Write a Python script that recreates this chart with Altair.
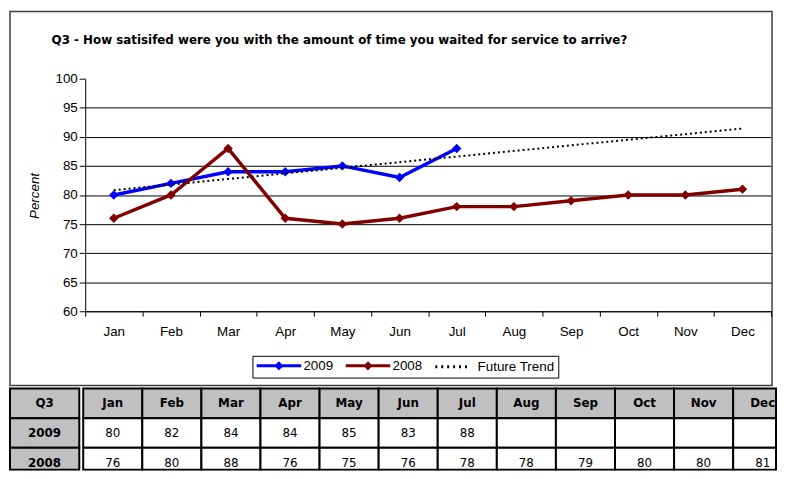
import altair as alt
import pandas as pd

# ---------------- data ----------------
months = ["Jan", "Feb", "Mar", "Apr", "May", "Jun", "Jul", "Aug", "Sep", "Oct", "Nov", "Dec"]
vals_2009 = [80, 82, 84, 84, 85, 83, 88]
vals_2008 = [76, 80, 88, 76, 75, 76, 78, 78, 79, 80, 80, 81]
series_names = ["2009", "2008", "Future Trend"]
series_colors = ["#0000FF", "#800000", "#000000"]
y_ticks = [60, 65, 70, 75, 80, 85, 90, 95, 100]
table_rows = ["Q3", "2009", "2008"]
title_text = "Q3 - How satisifed were you with the amount of time you waited for service to arrive?"

rows = []
for i, m in enumerate(months):
    if i < len(vals_2009):
        rows.append({"idx": i + 1, "month": m, "series": "2009", "value": vals_2009[i]})
for i, m in enumerate(months):
    rows.append({"idx": i + 1, "month": m, "series": "2008", "value": vals_2008[i]})
df = pd.DataFrame(rows)

trows = []
for i, m in enumerate(months):
    trows.append({"col": i, "row": 0, "label": m})
    trows.append({"col": i, "row": 1, "label": str(vals_2009[i]) if i < len(vals_2009) else ""})
    trows.append({"col": i, "row": 2, "label": str(vals_2008[i])})
tdf = pd.DataFrame(trows)
ldf = pd.DataFrame({"row": list(range(len(table_rows))), "label": table_rows})

# ---------------- layout constants ----------------
W, H = 770, 378
PX0, PX1 = 76, 769
PY0, PY1 = 303, 68
n = len(months)
x_bounds = [i + 0.5 for i in range(n + 1)]
band = (PX1 - PX0) / n

month_list_expr = "[" + ",".join("'%s'" % m for m in months) + "]"
label_expr = "datum.value < %d ? %s[floor(datum.value)] : ''" % (n, month_list_expr)

AX_FONT = "Liberation Sans"
AX_SIZE = 13.5

X = alt.X(
    "idx:Q",
    scale=alt.Scale(domain=[0.5, n + 0.5], range=[PX0, PX1], nice=False, zero=False),
    axis=alt.Axis(
        values=x_bounds, labelExpr=label_expr,
        labelOffset={"condition": {"test": "datum.value > %d" % n, "value": 0}, "value": band / 2},
        tickSize=5, offset=-(H - PY0), grid=False, title=None, labelPadding=8,
        labelFlush=False, labelOverlap=False, labelFont=AX_FONT, labelFontSize=AX_SIZE,
        labelColor="black", domainColor="black", tickColor="black",
    ),
)
Y = alt.Y(
    "value:Q",
    scale=alt.Scale(domain=[60, 100], range=[PY0, PY1], nice=False, zero=False),
    axis=alt.Axis(
        values=y_ticks, offset=-PX0, grid=True, gridColor="black", gridWidth=1,
        gridOpacity={"condition": {"test": "datum.value >= 100", "value": 0}, "value": 1},
        tickSize=6, tickColor="black", domainColor="black", labelPadding=2,
        labelFont=AX_FONT, labelFontSize=AX_SIZE, labelColor="black",
        title="Percent", titleFont=AX_FONT, titleFontStyle="italic",
        titleFontWeight="normal", titleFontSize=AX_SIZE, titleColor="black",
        titleX=-51, titleY=186, titleAngle=270, titleAlign="center", titleBaseline="middle",
    ),
)

sym_line_diamond = "M-4.5,0H4.5M0,-0.5L0.5,0L0,0.5L-0.5,0Z"
sym_line = "M-3.6,0H3.6"
trend_name = series_names[2]
fill_expr = "datum.value === '%s' ? '%s' : datum.value === '%s' ? '%s' : 'transparent'" % (
    series_names[0], series_colors[0], series_names[1], series_colors[1])

C = alt.Color(
    "series:N",
    scale=alt.Scale(domain=series_names, range=series_colors),
    legend=alt.Legend(
        title=None, orient="none", legendX=245, legendY=348, direction="horizontal",
        strokeColor="black", fillColor="white", padding=3, symbolSize=100,
        symbolStrokeWidth=3, symbolOffset=17,
        symbolType=alt.ExprRef("datum.value === '%s' ? '%s' : '%s'" % (trend_name, sym_line, sym_line_diamond)),
        symbolDash=alt.ExprRef("datum.value === '%s' ? [2, 4] : [1, 0]" % trend_name),
        symbolFillColor=alt.ExprRef(fill_expr),
        symbolOpacity=1,
        labelOffset=18, columnPadding=6, labelFont=AX_FONT, labelFontSize=AX_SIZE,
        labelColor="black",
    ),
)

base = alt.Chart(df)
lines = base.mark_line(strokeWidth=3.5).encode(x=X, y=Y, color=C, detail="series:N")
points = base.mark_point(shape="diamond", filled=True, size=90, opacity=1).encode(x=X, y=Y, color=C)
trend = (
    base.transform_filter(alt.datum.series == series_names[0])
    .transform_regression("idx", "value", method="linear", extent=[1, n])
    .transform_calculate(series="'%s'" % trend_name)
    .mark_line(strokeDash=[2, 3], strokeWidth=2)
    .encode(x=X, y=Y, color=C)
)

top = alt.layer(lines, points, trend).properties(
    width=W, height=H,
    title=alt.TitleParams(
        title_text, anchor="start", frame="group", dx=42, offset=-45,
        baseline="alphabetic", font="DejaVu Sans", fontSize=12, fontWeight="bold", color="black",
    ),
    view=alt.ViewBackground(stroke="#404040", strokeWidth=1.5),
)

# ---------------- table ----------------
TFONT = "DejaVu Sans"
GREY = "#C0C0C0"
TH = 82            # visible table height (px)
ROW_H = 30         # nominal row height
RW = 700           # visible width of month columns
COL_W = 59.7       # nominal month column width

YT = alt.Y("row:Q", axis=None,
           scale=alt.Scale(domain=[0, TH / ROW_H], range=[0, TH], clamp=True, nice=False, zero=False))
YT2 = alt.Y2("row_end:Q")
YC = alt.Y("row_mid:Q", axis=None,
           scale=alt.Scale(domain=[0, TH / ROW_H], range=[0, TH], clamp=True, nice=False, zero=False))

XT = alt.X("col:Q", axis=None,
           scale=alt.Scale(domain=[0, RW / COL_W], range=[0, RW], clamp=True, nice=False, zero=False))
XT2 = alt.X2("col_end:Q")
XC = alt.X("col_mid:Q", axis=None,
           scale=alt.Scale(domain=[0, RW / COL_W], range=[0, RW], clamp=True, nice=False, zero=False))

tbase = alt.Chart(tdf).transform_calculate(
    col_end="datum.col + 1", col_mid="datum.col + 0.5",
    row_end="datum.row + 1", row_mid="datum.row + 0.5",
)
t_rect = tbase.mark_rect(stroke="black", strokeWidth=2).encode(
    x=XT, x2=XT2, y=YT, y2=YT2,
    fill=alt.condition("datum.row === 0", alt.value(GREY), alt.value("white")),
)
t_head = tbase.transform_filter("datum.row === 0").mark_text(
    font=TFONT, fontSize=12, fontWeight="bold", color="black").encode(x=XC, y=YC, text="label:N")
t_body = tbase.transform_filter("datum.row !== 0").mark_text(
    font=TFONT, fontSize=12, color="black").encode(x=XC, y=YC, text="label:N")
right = alt.layer(t_rect, t_head, t_body).properties(width=RW, height=TH)

lbase = alt.Chart(ldf).transform_calculate(row_end="datum.row + 1", row_mid="datum.row + 0.5")
l_rect = lbase.mark_rect(stroke="black", strokeWidth=2, fill=GREY).encode(
    x=alt.value(0), x2=alt.value(70), y=YT, y2=YT2)
l_text = lbase.mark_text(font=TFONT, fontSize=12, fontWeight="bold", color="black").encode(
    x=alt.value(35), y=YC, text="label:N")
left = alt.layer(l_rect, l_text).properties(width=70, height=TH)

table = alt.hconcat(left, right, spacing=0).resolve_scale(y="independent")

chart = alt.vconcat(top, table, spacing=0).properties(
    padding={"left": 0, "top": 0, "right": 0, "bottom": 0}
).resolve_scale(x="independent", y="independent").configure_view(stroke=None).configure(background="white")

chart.save("out.html", embed_options={"renderer": "svg", "actions": False})
